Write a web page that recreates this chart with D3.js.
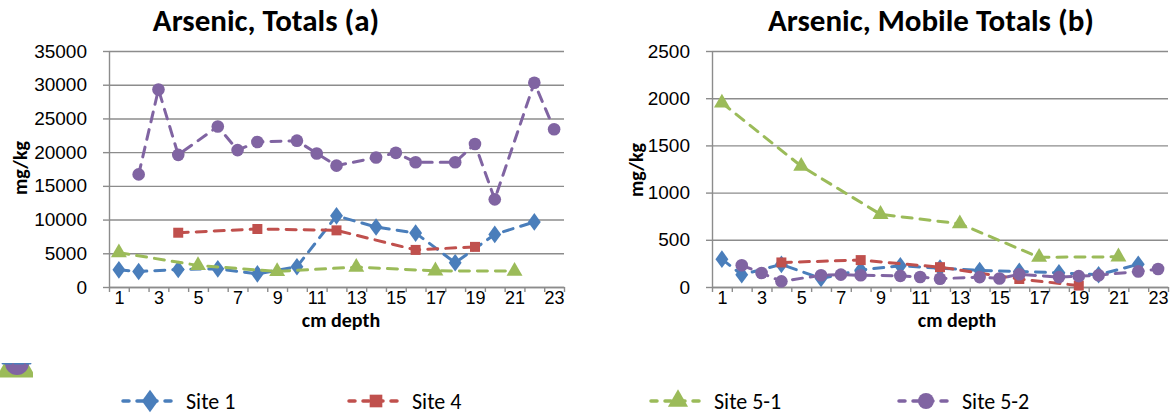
<!DOCTYPE html>
<html>
<head>
<meta charset="utf-8">
<script src="https://cdn.jsdelivr.net/npm/d3@7"></script>
<style>
  body { margin: 0; background: #fff; }
  svg { display: block; font-family: Carlito, Calibri, Lato, "Open Sans", sans-serif; }
</style>
</head>
<body>
<div id="graph"></div>
<script>
// Arsenic totals / mobile totals by depth, four sites

// depth categories on the x axis
let depths = [1, 2, 3, 4, 5, 6, 7, 8, 9, 10, 11, 12, 13, 14, 15, 16, 17, 18, 19, 20, 21, 22, 23];
let depthLabels = [1, 3, 5, 7, 9, 11, 13, 15, 17, 19, 21, 23];

// Site 1
let site1Depth = [1, 2, 4, 6, 8, 10, 12, 14, 16, 18, 20, 22];
let site1Totals = [2550, 2300, 2600, 2700, 1950, 3000, 10550, 8900, 8000, 3600, 7800, 9650];
let site1Mobile = [295, 130, 240, 90, 180, 225, 200, 175, 165, 150, 130, 240];

// Site 4
let site4Depth = [4, 8, 12, 16, 19];
let site4Totals = [8050, 8600, 8400, 5500, 5950];
let site4Mobile = [260, 285, 210, 85, 15];

// Site 5-1
let site51Depth = [1, 5, 9, 13, 17, 21];
let site51Totals = [5100, 3200, 2300, 2950, 2400, 2350];
let site51Mobile = [1950, 1280, 770, 670, 315, 320];

// Site 5-2
let site52Depth = [2, 3, 4, 6, 7, 8, 10, 11, 12, 14, 15, 16, 18, 19, 20, 22, 23];
let site52Totals = [16700, 29300, 19600, 23800, 20300, 21500, 21700, 19800, 18000, 19200, 19900, 18500, 18500, 21200, 13000, 30300, 23400];
let site52Mobile = [230, 148, 60, 124, 131, 124, 118, 106, 88, 105, 90, 135, 105, 115, 125, 165, 190];

let seriesNames = ["Site 1", "Site 4", "Site 5-1", "Site 5-2"];
let seriesColors = ["#4a7ebb", "#c0504d", "#9bbb59", "#8064a2"];
let seriesShapes = [d3.symbolDiamond, d3.symbolSquare, d3.symbolTriangle, d3.symbolCircle];
let markerSizes = [100, 100, 110, 125];

let svgWidth = 1172;
let svgHeight = 417;
let gridColor = "#8c8c8c";

let svg = d3.select("#graph")
  .append("svg")
  .attr("width", svgWidth)
  .attr("height", svgHeight);

svg.append("rect").attr("width", svgWidth).attr("height", svgHeight).attr("fill", "#fff");

function marker(g, i, x, y, k) {
  k = k || 1;
  let sym = d3.symbol().type(seriesShapes[i]).size(markerSizes[i] * k);
  g.append("path")
    .attr("d", sym())
    .attr("transform", `translate(${x},${y})` + (i == 0 ? " scale(1.2,0.95)" : ""))
    .attr("fill", seriesColors[i]);
}

function drawChart(opts) {
  let g = svg.append("g");

  let xScale = d3.scaleLinear()
    .domain([d3.min(depths) - 0.5, d3.max(depths) + 0.5])
    .range([opts.left, opts.right]);
  let yScale = d3.scaleLinear()
    .domain([0, opts.max])
    .range([opts.bottom, opts.top]);
  let yTicks = d3.range(0, opts.max + 1, opts.step);

  // gridlines
  g.append("g")
    .attr("transform", `translate(${opts.left},0)`)
    .call(d3.axisLeft(yScale).tickValues(yTicks).tickSize(-(opts.right - opts.left)).tickFormat(""))
    .call(a => a.select(".domain").remove())
    .call(a => a.selectAll("line").attr("stroke", gridColor).attr("stroke-width", 1.4));

  // y axis with outside ticks
  g.append("g")
    .attr("transform", `translate(${opts.left},0)`)
    .call(d3.axisLeft(yScale).tickValues(yTicks).tickSizeInner(6).tickSizeOuter(0).tickPadding(16).tickFormat(d3.format("d")))
    .call(a => a.select(".domain").attr("stroke", gridColor).attr("stroke-width", 1.4))
    .call(a => a.selectAll("line").attr("stroke", gridColor).attr("stroke-width", 1.4))
    .call(a => a.selectAll("text").attr("font-size", 19).attr("fill", "#000").attr("font-family", null));

  // x axis: ticks between categories
  let boundaries = depths.map(d => d - 0.5).concat([d3.max(depths) + 0.5]);
  g.append("g")
    .attr("transform", `translate(0,${opts.bottom})`)
    .call(d3.axisBottom(xScale).tickValues(boundaries).tickSize(5).tickSizeOuter(0).tickFormat(""))
    .call(a => a.select(".domain").attr("stroke", gridColor).attr("stroke-width", 1.4))
    .call(a => a.selectAll("line").attr("stroke", gridColor).attr("stroke-width", 1.4));

  // x labels
  g.append("g")
    .attr("transform", `translate(0,${opts.bottom})`)
    .call(d3.axisBottom(xScale).tickValues(depthLabels).tickSize(0).tickPadding(4).tickFormat(d3.format("d")))
    .call(a => a.select(".domain").remove())
    .call(a => a.selectAll("text").attr("font-size", 18).attr("fill", "#000").attr("font-family", null));

  // series
  opts.series.forEach(function(s, i) {
    let pts = s.depth.map((d, k) => [d, s.values[k]]);
    let line = d3.line()
      .x(d => xScale(d[0]))
      .y(d => yScale(d[1]));
    let sg = g.append("g");
    sg.append("path")
      .datum(pts)
      .attr("d", line)
      .attr("fill", "none")
      .attr("stroke", seriesColors[i])
      .attr("stroke-width", 3)
      .attr("stroke-dasharray", "10,8")
      .attr("stroke-linecap", "round");
    pts.forEach(p => marker(sg, i, xScale(p[0]), yScale(p[1])));
  });

  // title
  svg.append("text")
    .attr("x", opts.titleX)
    .attr("y", 31)
    .attr("text-anchor", "middle")
    .attr("font-size", 31)
    .attr("font-weight", "bold")
    .text(opts.title);

  // axis titles
  svg.append("text")
    .attr("transform", `translate(${opts.yTitleX},${opts.yTitleY}) rotate(-90)`)
    .attr("text-anchor", "middle")
    .attr("font-size", 20)
    .attr("font-weight", "bold")
    .text("mg/kg");

  svg.append("text")
    .attr("x", opts.xTitleX)
    .attr("y", 327)
    .attr("text-anchor", "middle")
    .attr("font-size", 20)
    .attr("font-weight", "bold")
    .text("cm depth");
}

drawChart({
  left: 109, right: 564, top: 51, bottom: 287,
  max: 35000, step: 5000,
  title: "Arsenic, Totals (a)", titleX: 266,
  yTitleX: 27, yTitleY: 168, xTitleX: 341,
  series: [
    { depth: site1Depth, values: site1Totals },
    { depth: site4Depth, values: site4Totals },
    { depth: site51Depth, values: site51Totals },
    { depth: site52Depth, values: site52Totals }
  ]
});

drawChart({
  left: 712, right: 1168, top: 51, bottom: 287,
  max: 2500, step: 500,
  title: "Arsenic, Mobile Totals (b)", titleX: 931,
  yTitleX: 643, yTitleY: 170, xTitleX: 957,
  series: [
    { depth: site1Depth, values: site1Mobile },
    { depth: site4Depth, values: site4Mobile },
    { depth: site51Depth, values: site51Mobile },
    { depth: site52Depth, values: site52Mobile }
  ]
});

// clipped legend fragment at the left edge
let clip = svg.append("clipPath").attr("id", "frag");
clip.append("rect").attr("x", 0).attr("y", 363).attr("width", 33).attr("height", 15);
let frag = svg.append("g").attr("clip-path", "url(#frag)");
frag.append("path")
  .attr("d", d3.symbol().type(d3.symbolTriangle).size(700)())
  .attr("transform", "translate(16,366)")
  .attr("fill", seriesColors[2]);
frag.append("circle").attr("cx", 17).attr("cy", 363).attr("r", 12).attr("fill", seriesColors[3]);
frag.append("line")
  .attr("x1", 3).attr("x2", 30).attr("y1", 363).attr("y2", 363)
  .attr("stroke", seriesColors[0]).attr("stroke-width", 3)
  .attr("stroke-dasharray", "8,4").attr("stroke-linecap", "round");

// legend
let legendX = [150, 376, 678, 926];
let legend = svg.append("g");
seriesNames.forEach(function(name, i) {
  let lg = legend.append("g");
  lg.append("line")
    .attr("x1", legendX[i] - 27).attr("x2", legendX[i] + 27)
    .attr("y1", 401).attr("y2", 401)
    .attr("stroke", seriesColors[i])
    .attr("stroke-width", 3.5)
    .attr("stroke-dasharray", "6,8")
    .attr("stroke-linecap", "round");
  marker(lg, i, legendX[i], 401, 1.6);
  lg.append("text")
    .attr("x", legendX[i] + 36)
    .attr("y", 409)
    .attr("font-size", 22)
    .text(name);
});
</script>
</body>
</html>
